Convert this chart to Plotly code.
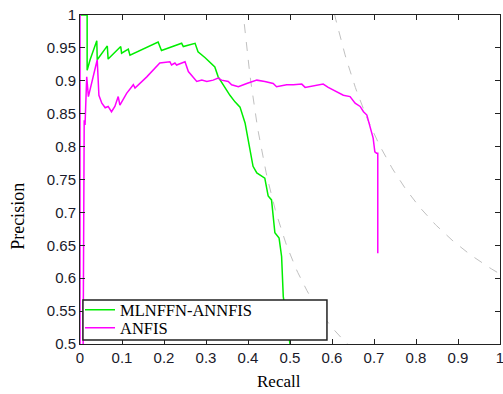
import plotly.graph_objects as go

# ---- data ----
green_recall = [0, 0.017, 0.017, 0.024, 0.040, 0.041, 0.065, 0.067, 0.097, 0.099,
                0.115, 0.119, 0.186, 0.194, 0.242, 0.246, 0.274, 0.281, 0.298, 0.310,
                0.321, 0.329, 0.345, 0.357, 0.369, 0.381, 0.393, 0.400, 0.405, 0.412,
                0.421, 0.440, 0.448, 0.456, 0.464, 0.474, 0.480, 0.484, 0.500, 0.502]
green_precision = [1, 1, 0.916, 0.932, 0.961, 0.932, 0.953, 0.933, 0.952, 0.942,
                   0.948, 0.939, 0.959, 0.946, 0.957, 0.952, 0.957, 0.944, 0.935, 0.927,
                   0.921, 0.906, 0.889, 0.878, 0.868, 0.860, 0.836, 0.810, 0.790, 0.770,
                   0.760, 0.752, 0.725, 0.719, 0.669, 0.661, 0.633, 0.572, 0.500, 0.45]

magenta_recall = [0, 0, 0.006, 0.008, 0.010, 0.012, 0.016, 0.020, 0.036, 0.041,
                  0.045, 0.052, 0.060, 0.067, 0.075, 0.083, 0.091, 0.095, 0.111, 0.127,
                  0.131, 0.159, 0.190, 0.214, 0.218, 0.226, 0.230, 0.250, 0.258, 0.270,
                  0.278, 0.290, 0.302, 0.317, 0.329, 0.337, 0.353, 0.361, 0.377, 0.397,
                  0.421, 0.440, 0.460, 0.468, 0.492, 0.508, 0.528, 0.536, 0.564, 0.579,
                  0.591, 0.611, 0.627, 0.643, 0.655, 0.667, 0.675, 0.683, 0.690, 0.698,
                  0.702, 0.706, 0.709, 0.709]
magenta_precision = [1, 0.3, 0.3, 0.6, 0.84, 0.833, 0.906, 0.876, 0.921, 0.932,
                     0.878, 0.866, 0.859, 0.861, 0.853, 0.861, 0.876, 0.863, 0.881, 0.894,
                     0.889, 0.906, 0.927, 0.929, 0.924, 0.927, 0.924, 0.929, 0.914, 0.904,
                     0.899, 0.901, 0.899, 0.901, 0.904, 0.901, 0.899, 0.894, 0.891, 0.896,
                     0.901, 0.899, 0.896, 0.891, 0.894, 0.894, 0.895, 0.890, 0.894, 0.895,
                     0.890, 0.883, 0.878, 0.876, 0.866, 0.861, 0.853, 0.848, 0.833, 0.813,
                     0.792, 0.790, 0.790, 0.638]

iso_f_levels = [0.56, 0.755]   # iso-F reference curves (dashed gray)

x_tickvals = [0, 0.1, 0.2, 0.3, 0.4, 0.5, 0.6, 0.7, 0.8, 0.9, 1]
x_ticktext = ["0", "0.1", "0.2", "0.3", "0.4", "0.5", "0.6", "0.7", "0.8", "0.9", "1"]
y_tickvals = [0.5, 0.55, 0.6, 0.65, 0.7, 0.75, 0.8, 0.85, 0.9, 0.95, 1]
y_ticktext = ["0.5", "0.55", "0.6", "0.65", "0.7", "0.75", "0.8", "0.85", "0.9", "0.95", "1"]

series_names = ["MLNFFN-ANNFIS", "ANFIS"]

fig = go.Figure()

# iso-F dashed curves
for f in iso_f_levels:
    rs = [f / 2 + 0.001 + i * (1 - f / 2) / 200 for i in range(201)]
    ps = [f * r / (2 * r - f) for r in rs]
    pts = [(r, p) for r, p in zip(rs, ps) if 0 < p <= 1.2]
    fig.add_trace(go.Scatter(x=[a for a, _ in pts], y=[b for _, b in pts], mode="lines",
                             line=dict(color="#c0c0c0", width=1, dash="dash"),
                             showlegend=False, hoverinfo="skip"))

fig.add_trace(go.Scatter(x=green_recall, y=green_precision, mode="lines",
                         name=series_names[0], legend="legend",
                         line=dict(color="#00ee00", width=1.5)))
fig.add_trace(go.Scatter(x=magenta_recall, y=magenta_precision, mode="lines",
                         name=series_names[1], legend="legend2",
                         line=dict(color="#ff00ff", width=1.5)))

axis_common = dict(showgrid=False, zeroline=False, showline=True, linecolor="#222",
                   linewidth=1, mirror="ticks", ticks="inside", ticklen=5,
                   tickcolor="#222", tickwidth=1, automargin=False,
                   ticklabeloverflow="allow",
                   tickfont=dict(family="Liberation Sans, Arial", size=15, color="#1a1a2a"))

fig.update_xaxes(range=[0, 1], tickvals=x_tickvals, ticktext=x_ticktext, **axis_common)
fig.update_yaxes(range=[0.5, 1], tickvals=y_tickvals, ticktext=y_ticktext, **axis_common)

legend_font = dict(family="Liberation Serif, Times New Roman", size=16.5, color="black")
legend_common = dict(x=0.0, xanchor="left", yanchor="middle",
                     bgcolor="rgba(0,0,0,0)", borderwidth=0, font=legend_font,
                     itemwidth=30)

fig.update_layout(
    width=503, height=394,
    margin=dict(l=80, r=3, t=15, b=50, autoexpand=False),
    plot_bgcolor="white", paper_bgcolor="white",
    showlegend=True,
    legend=dict(y=(344 - 310) / 329, **legend_common),
    legend2=dict(y=(344 - 328) / 329, **legend_common),
    shapes=[dict(type="rect", xref="paper", yref="paper", x0=0.007, x1=0.588,
                 y0=0.012, y1=0.134, line=dict(color="#222", width=1.5),
                 fillcolor="white", layer="above")],
    annotations=[
        dict(text="Precision", xref="paper", yref="paper", x=-0.148, y=0.389,
             textangle=-90, showarrow=False, xanchor="center", yanchor="middle",
             font=dict(family="Liberation Serif, Times New Roman", size=18, color="black")),
        dict(text="Recall", xref="paper", yref="paper", x=0.474, y=-0.1155,
             showarrow=False, xanchor="center", yanchor="middle",
             font=dict(family="Liberation Serif, Times New Roman", size=17, color="black")),
    ],
)

fig.write_html("out.html", config={"displayModeBar": False},
               post_script="document.body.style.margin='0';document.body.style.overflow='hidden';")
